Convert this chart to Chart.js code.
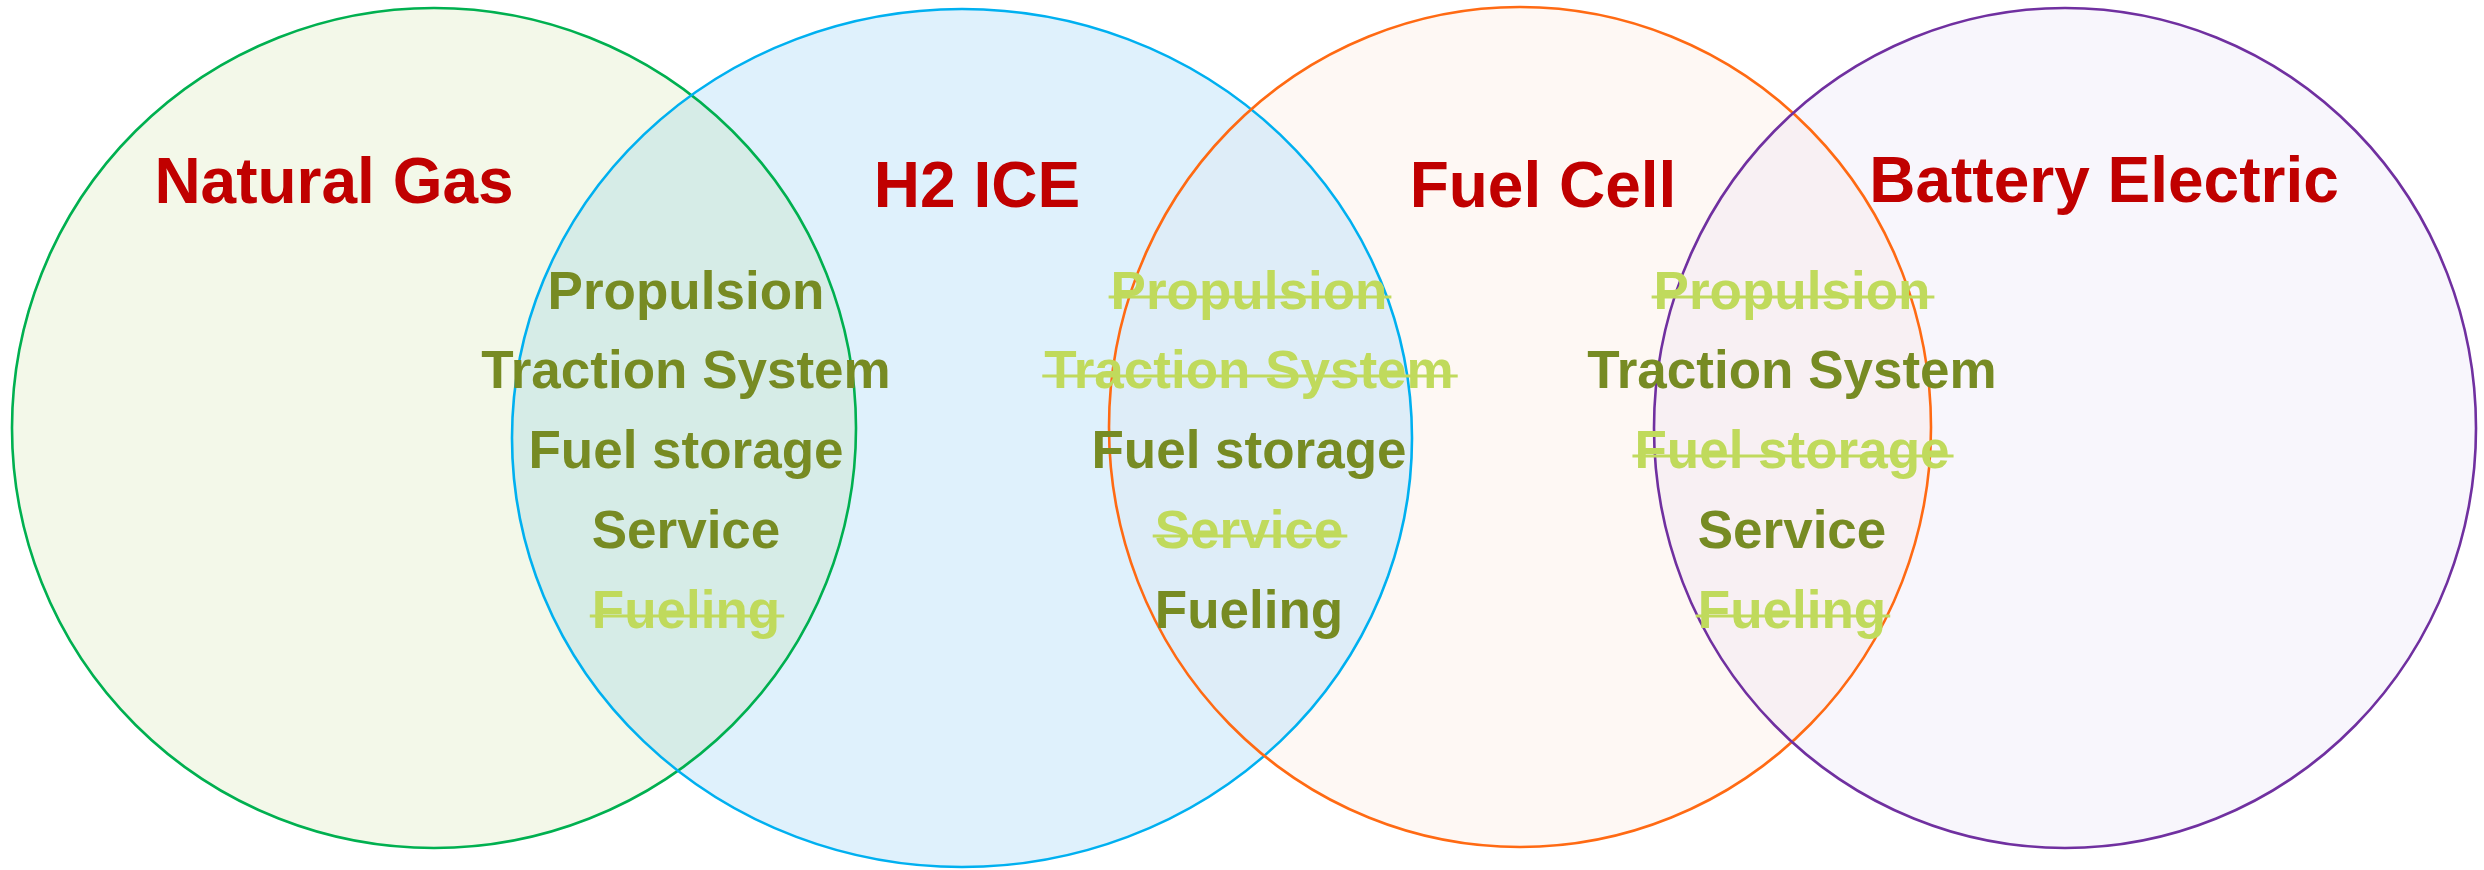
<!DOCTYPE html>
<html>
<head>
<meta charset="utf-8">
<script src="https://cdn.jsdelivr.net/npm/chart.js@4/dist/chart.umd.min.js"></script>
<style>
  html, body { margin: 0; padding: 0; background: #ffffff; }
  #wrap { width: 2484px; height: 870px; position: relative; }
</style>
</head>
<body>
<div id="wrap"><canvas id="c"></canvas></div>
<script>
// ---- data ----
const setNames = ["Natural Gas", "H2 ICE", "Fuel Cell", "Battery Electric"];
const setCenterX = [434, 962, 1520, 2065];
const setCenterY = [428, 438, 427, 428];
const setRadiusX = [422, 450, 411, 411];
const setRadiusY = [420, 429, 420, 420];

const itemLabels = ["Propulsion", "Traction System", "Fuel storage", "Service", "Fueling"];
// shared (1) or not shared (0, struck through) for each adjacent pair overlap
const sharedNG_H2 = [1, 1, 1, 1, 0];
const sharedH2_FC = [0, 0, 1, 0, 1];
const sharedFC_BE = [0, 1, 0, 1, 0];

// ---- layout / styles ----
const strokeColors = ["#00B050", "#00B0F0", "#FF6A13", "#7030A0"];
const fillColors = ["#F3F8E9", "#DFF1FC", "#FEF8F4", "#F8F6FC"];
const overlapColors = ["#D6ECE7", "#DEEDF8", "#F8F0F3"];
const titlePos = [[334, 203, 64], [977, 207, 64], [1543, 207, 64], [2104, 202, 64]];
const overlapColumnX = [686, 1249, 1792];
const rowBaselineY = [309, 388, 468, 548, 628];
const sharedSets = [sharedNG_H2, sharedH2_FC, sharedFC_BE];

const FONT = '"Liberation Sans", Arial, sans-serif';

const vennPlugin = {
  id: 'venn',
  beforeDatasetsDraw(chart) {
    const ctx = chart.ctx;
    const xs = chart.scales.x, ys = chart.scales.y;
    const shapes = chart.data.datasets.map((ds, i) => {
      const el = chart.getDatasetMeta(i).data[0];
      const pt = ds.data[0];
      const rx = Math.abs(xs.getPixelForValue(pt.x + pt.rx) - el.x);
      const ry = Math.abs(ys.getPixelForValue(pt.y + pt.ry) - el.y);
      return { x: el.x, y: el.y, rx, ry };
    });
    const path = (s) => { ctx.beginPath(); ctx.ellipse(s.x, s.y, s.rx, s.ry, 0, 0, Math.PI * 2); };
    ctx.save();
    shapes.forEach((s, i) => { path(s); ctx.fillStyle = fillColors[i]; ctx.fill(); });
    for (let i = 0; i < shapes.length - 1; i++) {
      ctx.save();
      path(shapes[i]); ctx.clip();
      path(shapes[i + 1]); ctx.fillStyle = overlapColors[i]; ctx.fill();
      ctx.restore();
    }
    shapes.forEach((s, i) => { path(s); ctx.lineWidth = 2.6; ctx.strokeStyle = strokeColors[i]; ctx.stroke(); });

    // titles
    ctx.textAlign = 'center';
    ctx.textBaseline = 'alphabetic';
    setNames.forEach((name, i) => {
      const [tx, ty, fs] = titlePos[i];
      ctx.font = 'bold ' + fs + 'px ' + FONT;
      ctx.fillStyle = '#C00000';
      ctx.fillText(name, xs.getPixelForValue(tx), ys.getPixelForValue(ty));
    });

    // overlap items
    ctx.font = 'bold 53px ' + FONT;
    sharedSets.forEach((flags, c) => {
      const cx = xs.getPixelForValue(overlapColumnX[c]);
      itemLabels.forEach((lab, r) => {
        const by = ys.getPixelForValue(rowBaselineY[r]);
        const shared = flags[r] === 1;
        const col = shared ? '#778B23' : '#C0DA5C';
        ctx.fillStyle = col;
        ctx.fillText(lab, cx, by);
        if (!shared) {
          const w = ctx.measureText(lab).width;
          ctx.fillRect(cx - w / 2 - 2, by - 13.5, w + 6, 3);
        }
      });
    });
    ctx.restore();
  }
};

const datasets = setNames.map((name, i) => ({
  label: name,
  data: [{ x: setCenterX[i], y: setCenterY[i], rx: setRadiusX[i], ry: setRadiusY[i] }],
  pointRadius: 0,
  pointHoverRadius: 0,
  backgroundColor: fillColors[i],
  borderColor: strokeColors[i]
}));

new Chart(document.getElementById('c'), {
  type: 'scatter',
  data: { datasets },
  options: {
    responsive: true,
    maintainAspectRatio: false,
    animation: false,
    layout: { padding: 0 },
    plugins: { legend: { display: false }, tooltip: { enabled: false }, title: { display: false } },
    events: [],
    scales: {
      x: { type: 'linear', min: 0, max: 2484, display: false },
      y: { type: 'linear', min: 0, max: 870, reverse: true, display: false }
    }
  },
  plugins: [vennPlugin]
});
</script>
</body>
</html>
